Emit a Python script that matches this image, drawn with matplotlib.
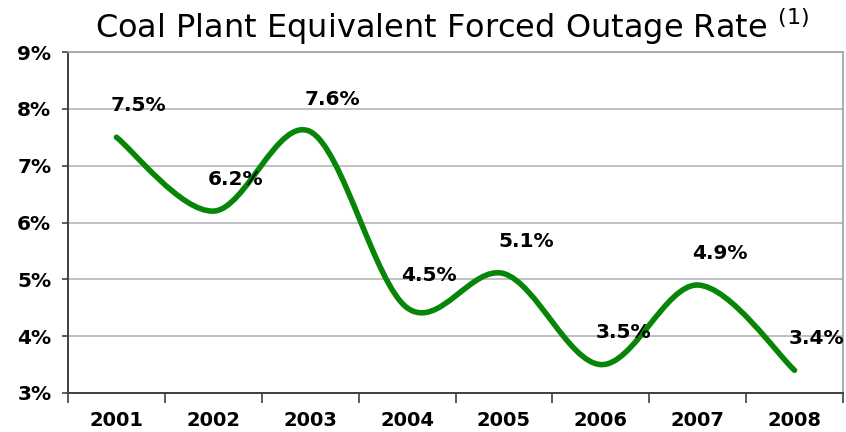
import matplotlib
matplotlib.use("Agg")
import matplotlib.pyplot as plt
from matplotlib.path import Path
from matplotlib.patches import PathPatch
import numpy as np

years = ["2001", "2002", "2003", "2004", "2005", "2006", "2007", "2008"]
rates = [7.5, 6.2, 7.6, 4.5, 5.1, 3.5, 4.9, 3.4]
ytick_vals = [3, 4, 5, 6, 7, 8, 9]
ytick_labels = ["3%", "4%", "5%", "6%", "7%", "8%", "9%"]
title = "Coal Plant Equivalent Forced Outage Rate"

plt.rcParams["font.family"] = ["DejaVu Sans"]
plt.rcParams["mathtext.fontset"] = "dejavusans"

fig = plt.figure(figsize=(8.46, 4.32), dpi=100)
ax = fig.add_axes([68 / 846, 1 - 393 / 432, (843 - 68) / 846, (393 - 52) / 432])

# smoothed line (Excel-like Catmull-Rom Bezier) through the data points
xs = np.arange(len(rates), dtype=float)
ys = np.array(rates, dtype=float)
pts = np.column_stack([xs, ys])
verts = [tuple(pts[0])]
codes = [Path.MOVETO]
n = len(pts)
for i in range(n - 1):
    p_prev = pts[i - 1] if i > 0 else pts[i]
    p0 = pts[i]
    p1 = pts[i + 1]
    p_next = pts[i + 2] if i + 2 < n else pts[i + 1]
    c1 = p0 + (p1 - p_prev) / 6.0
    c2 = p1 - (p_next - p0) / 6.0
    verts += [tuple(c1), tuple(c2), tuple(p1)]
    codes += [Path.CURVE4] * 3
patch = PathPatch(Path(verts, codes), fill=False, edgecolor="#078507",
                  linewidth=4.0, capstyle="round", joinstyle="round", zorder=3)
ax.add_patch(patch)

for x, y in zip(xs, ys):
    ax.annotate(f"{y:.1f}%", (x, y), xytext=(16, 23), textcoords="offset points",
                ha="center", va="center", fontsize=14.5, fontweight="bold",
                color="black", zorder=4)

ax.set_xlim(-0.5, len(years) - 0.5)
ax.set_ylim(3, 9)
ax.set_yticks(ytick_vals)
ax.set_yticklabels(ytick_labels, fontsize=14.5, fontweight="bold")
ax.set_xticks(xs)
ax.set_xticklabels(years, fontsize=14, fontweight="bold")
ax.set_xticks(np.arange(-0.5, len(years)), minor=True)
ax.tick_params(axis="x", which="major", length=0, pad=13)
ax.tick_params(axis="x", which="minor", length=7, width=1.2, color="#404040", direction="out")
ax.tick_params(axis="y", which="major", length=4, width=1.2, color="#404040", pad=8)

ax.grid(axis="y", color="#b4b4b4", linewidth=1.2, zorder=0)
ax.set_axisbelow(True)
for side in ["top", "right"]:
    ax.spines[side].set_color("#a0a0a0")
    ax.spines[side].set_linewidth(1.2)
for side in ["left", "bottom"]:
    ax.spines[side].set_color("#404040")
    ax.spines[side].set_linewidth(1.4)

fig.text(0.534, 0.937, title + r" $^{\mathregular{(1)}}$", ha="center", va="center",
         fontsize=23, color="black")

fig.savefig("out.png", dpi=100)
